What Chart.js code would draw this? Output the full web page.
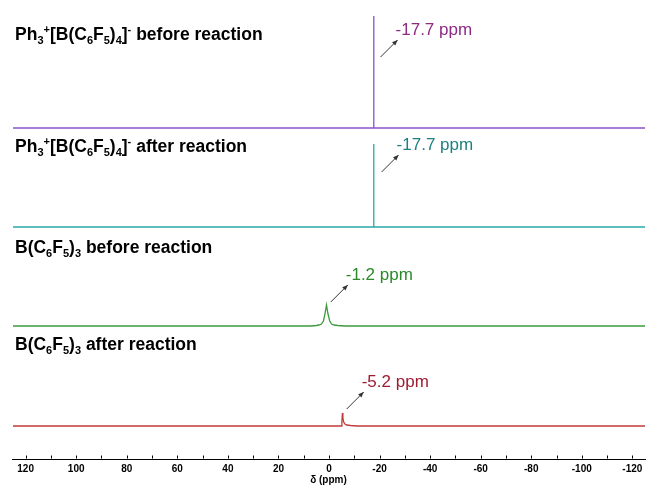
<!DOCTYPE html>
<html>
<head>
<meta charset="utf-8">
<script src="https://cdn.jsdelivr.net/npm/chart.js@4.4.0/dist/chart.umd.min.js"></script>
<style>
  html, body { margin: 0; padding: 0; background: #fff; }
  #wrap { position: relative; width: 648px; height: 490px; }
  .lbl {
    position: absolute; left: 15px; line-height: 20px;
    font: bold 17.5px "Liberation Sans", Arial, sans-serif; color: #000; white-space: nowrap;
  }
  .lbl sub, .lbl sup { font-size: 11px; line-height: 0; }
  .lbl sub { vertical-align: -4px; }
  .lbl sup { vertical-align: 7px; }
</style>
</head>
<body>
<div id="wrap">
  <canvas id="nmr" width="648" height="490"></canvas>
  <div class="lbl" style="top:24px">Ph<sub>3</sub><sup>+</sup>[B(C<sub>6</sub>F<sub>5</sub>)<sub>4</sub>]<sup>-</sup> before reaction</div>
  <div class="lbl" style="top:136px">Ph<sub>3</sub><sup>+</sup>[B(C<sub>6</sub>F<sub>5</sub>)<sub>4</sub>]<sup>-</sup> after reaction</div>
  <div class="lbl" style="top:237px">B(C<sub>6</sub>F<sub>5</sub>)<sub>3</sub> before reaction</div>
  <div class="lbl" style="top:334px">B(C<sub>6</sub>F<sub>5</sub>)<sub>3</sub> after reaction</div>
</div>
<script>
(function () {
  'use strict';

  // chemical shift (ppm) / intensity pairs
  var shiftPurple = [125, 40, -10, -17.66, -17.7, -17.74, -40, -125];
  var intPurple   = [0,   0,  0,   0,      112,   0,      0,   0];

  var shiftTeal = [125, 40, -10, -17.66, -17.7, -17.74, -40, -125];
  var intTeal   = [0,   0,  0,   0,      83,    0,      0,   0];

  var shiftGreen = [125, 20, 7, 5, 4, 3, 2.2, 1.6, 1, 0.4, -0.3, -1, -2, -3.5, -6, -40, -125];
  var intGreen   = [0,   0,  0, 0.5, 1, 2, 5,   12,  21, 12,  5,    2,  1,  0.5,  0,  0,   0];

  var shiftRed = [125, 20, -4.9, -5.1, -5.3, -5.5, -5.8, -6.3, -7, -8.5, -11, -40, -125];
  var intRed   = [0,   0,  0,    5,    13,   8,    4,    2,    1,  0.5,  0,   0,   0];

  // vertical stacking offsets of each trace
  var offsets = [331, 232, 133, 33];
  var colors = ['#9050cc', '#2ba8a8', '#3d9b3d', '#c23a3a'];
  var textColors = ['#8e2a82', '#1f8080', '#2a8a2a', '#9e1b32'];

  // arrow tail (ppm, intensity) and label text
  var arrowShift = [-20.4, -20.8, -0.7, -7.0];
  var arrowInt = [402, 287, 157, 50];
  var peakLabel = ['-17.7 ppm', '-17.7 ppm', '-1.2 ppm', '-5.2 ppm'];

  var xTicks = [120, 100, 80, 60, 40, 20, 0, -20, -40, -60, -80, -100, -120];

  function pts(xs, ys, off) {
    return xs.map(function (x, i) { return { x: x, y: ys[i] + off }; });
  }

  var series = [
    pts(shiftPurple, intPurple, offsets[0]),
    pts(shiftTeal, intTeal, offsets[1]),
    pts(shiftGreen, intGreen, offsets[2]),
    pts(shiftRed, intRed, offsets[3])
  ];

  var annot = {
    id: 'annot',
    afterDatasetsDraw: function (chart) {
      var ctx = chart.ctx, xs = chart.scales.x, ys = chart.scales.y;
      ctx.save();
      // tick marks pointing up from the axis line
      ctx.strokeStyle = '#000'; ctx.lineWidth = 1;
      var base = Math.round(ys.getPixelForValue(0)) - 0.5;
      for (var v = 120; v >= -120; v -= 10) {
        var tx = Math.round(xs.getPixelForValue(v)) + 0.5;
        ctx.beginPath(); ctx.moveTo(tx, base); ctx.lineTo(tx, base - 3); ctx.stroke();
      }
      for (var i = 0; i < arrowShift.length; i++) {
        var x0 = xs.getPixelForValue(arrowShift[i]);
        var y0 = ys.getPixelForValue(arrowInt[i]);
        var x1 = x0 + 17, y1 = y0 - 17;
        ctx.strokeStyle = '#333'; ctx.fillStyle = '#333'; ctx.lineWidth = 1;
        ctx.beginPath(); ctx.moveTo(x0, y0); ctx.lineTo(x1, y1); ctx.stroke();
        var a = Math.atan2(y1 - y0, x1 - x0);
        ctx.beginPath();
        ctx.moveTo(x1, y1);
        ctx.lineTo(x1 - 6 * Math.cos(a - 0.4), y1 - 6 * Math.sin(a - 0.4));
        ctx.lineTo(x1 - 6 * Math.cos(a + 0.4), y1 - 6 * Math.sin(a + 0.4));
        ctx.closePath(); ctx.fill();
        ctx.fillStyle = textColors[i];
        ctx.font = '17px "Liberation Sans", Arial, sans-serif';
        ctx.textBaseline = 'middle';
        ctx.fillText(peakLabel[i], x1 - 2, y1 - 10);
      }
      ctx.restore();
    }
  };

  new Chart(document.getElementById('nmr'), {
    type: 'line',
    data: {
      datasets: series.map(function (d, i) {
        return {
          data: d,
          borderColor: colors[i],
          borderWidth: 1.3,
          pointRadius: 0,
          tension: 0,
          fill: false
        };
      })
    },
    options: {
      responsive: false,
      animation: false,
      layout: { padding: { left: 12, right: 3, top: 10, bottom: 0 } },
      plugins: { legend: { display: false }, tooltip: { enabled: false } },
      scales: {
        x: {
          type: 'linear',
          reverse: true,
          min: -125, max: 125.4,
          afterBuildTicks: function (scale) {
            scale.ticks = xTicks.map(function (v) { return { value: v }; });
          },
          afterFit: function (scale) { scale.height = 31; },
          ticks: {
            autoSkip: false, maxRotation: 0, padding: 4, color: '#000',
            font: { family: '"Liberation Sans", Arial, sans-serif', size: 10, weight: 'bold' }
          },
          grid: { display: false, drawTicks: false },
          border: { display: true, color: '#000', width: 1 },
          title: {
            display: true, text: 'δ (ppm)', color: '#000', padding: { top: 0, bottom: 4 },
            font: { family: '"Liberation Sans", Arial, sans-serif', size: 10, weight: 'bold' }
          }
        },
        y: { display: false, min: 0, max: 449 }
      }
    },
    plugins: [annot]
  });
})();
</script>
</body>
</html>
